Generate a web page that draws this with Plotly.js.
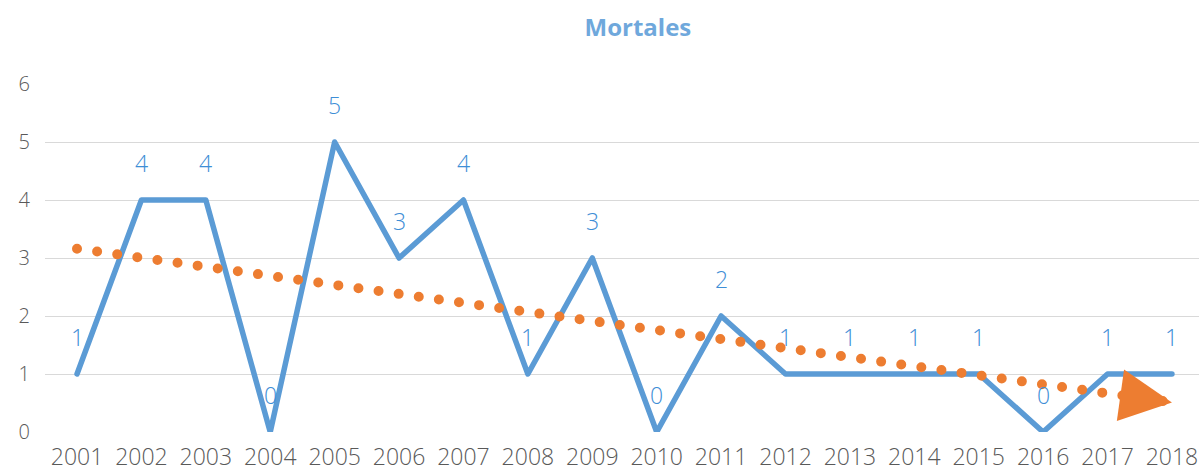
<!DOCTYPE html>
<html>
<head>
<meta charset="utf-8">
<script src="https://cdn.plot.ly/plotly-3.0.1.min.js"></script>
<style>
html,body{margin:0;padding:0;background:#fff;}
#chart{width:1199px;height:471px;}
.scatterlayer .js-line{stroke-linecap:round !important;stroke-linejoin:round !important;}
</style>
</head>
<body>
<div id="chart"></div>
<script>
// Data
const years = [2001,2002,2003,2004,2005,2006,2007,2008,2009,2010,2011,2012,2013,2014,2015,2016,2017,2018];
const mortales = [1,4,4,0,5,3,4,1,3,0,2,1,1,1,1,0,1,1];
// Linear trend line endpoints
const trendYears = [2001, 2018];
const trendValues = [3.16, 0.51];
const yTicks = [0,1,2,3,4,5,6];

const blue = '#5B9BD5';
const orange = '#ED7D31';
const font = '"Open Sans", sans-serif';

const traces = [
  {
    x: years, y: mortales,
    type: 'scatter', mode: 'lines',
    line: {color: blue, width: 5.5},
    cliponaxis: false
  },
  {
    x: trendYears, y: trendValues,
    type: 'scatter', mode: 'lines',
    line: {color: orange, width: 10, dash: '0px,20.3px'},
    hoverinfo: 'skip', cliponaxis: false
  }
];

const annotations = years.map((yr, i) => ({
  x: yr, y: mortales[i], xref: 'x', yref: 'y',
  text: String(mortales[i]), showarrow: false,
  yshift: 37, font: {family: font, size: 23, weight: 300, color: '#3E8ED6'}
}));

// Arrow head at the end of the trend line
const last = trendYears.length - 1;
annotations.push({
  x: trendYears[last], y: trendValues[last], xref: 'x', yref: 'y',
  text: '', showarrow: true, arrowhead: 2, arrowsize: 5.2, arrowwidth: 2,
  arrowcolor: orange, ax: -30, ay: -4.2, standoff: 0
});

const layout = {
  width: 1199, height: 471,
  margin: {l: 45, r: 0, t: 84, b: 39},
  paper_bgcolor: '#fff', plot_bgcolor: '#fff',
  showlegend: false,
  title: {text: '<b>Mortales</b>', x: 0.532, xref: 'container', xanchor: 'center',
          y: 0.9406, yref: 'container', yanchor: 'middle',
          font: {family: font, size: 24, color: '#6FA8DC'}},
  xaxis: {
    range: [2000.503, 2018.42], tickmode: 'array', tickvals: years, ticktext: years.map(String),
    showgrid: false, zeroline: false, showline: false, ticks: '',
    tickfont: {family: font, size: 23, weight: 300, color: '#595959'}, ticklabelstandoff: 9
  },
  yaxis: {
    range: [0, 6], tickmode: 'array', tickvals: yTicks,
    showgrid: true, gridcolor: '#D9D9D9', gridwidth: 1, zeroline: false, showline: false, ticks: '',
    tickfont: {family: font, size: 20, weight: 300, color: '#595959'}, ticklabelstandoff: 14
  },
  annotations: annotations
};

Plotly.newPlot('chart', traces, layout, {staticPlot: true, displayModeBar: false});
</script>
</body>
</html>
